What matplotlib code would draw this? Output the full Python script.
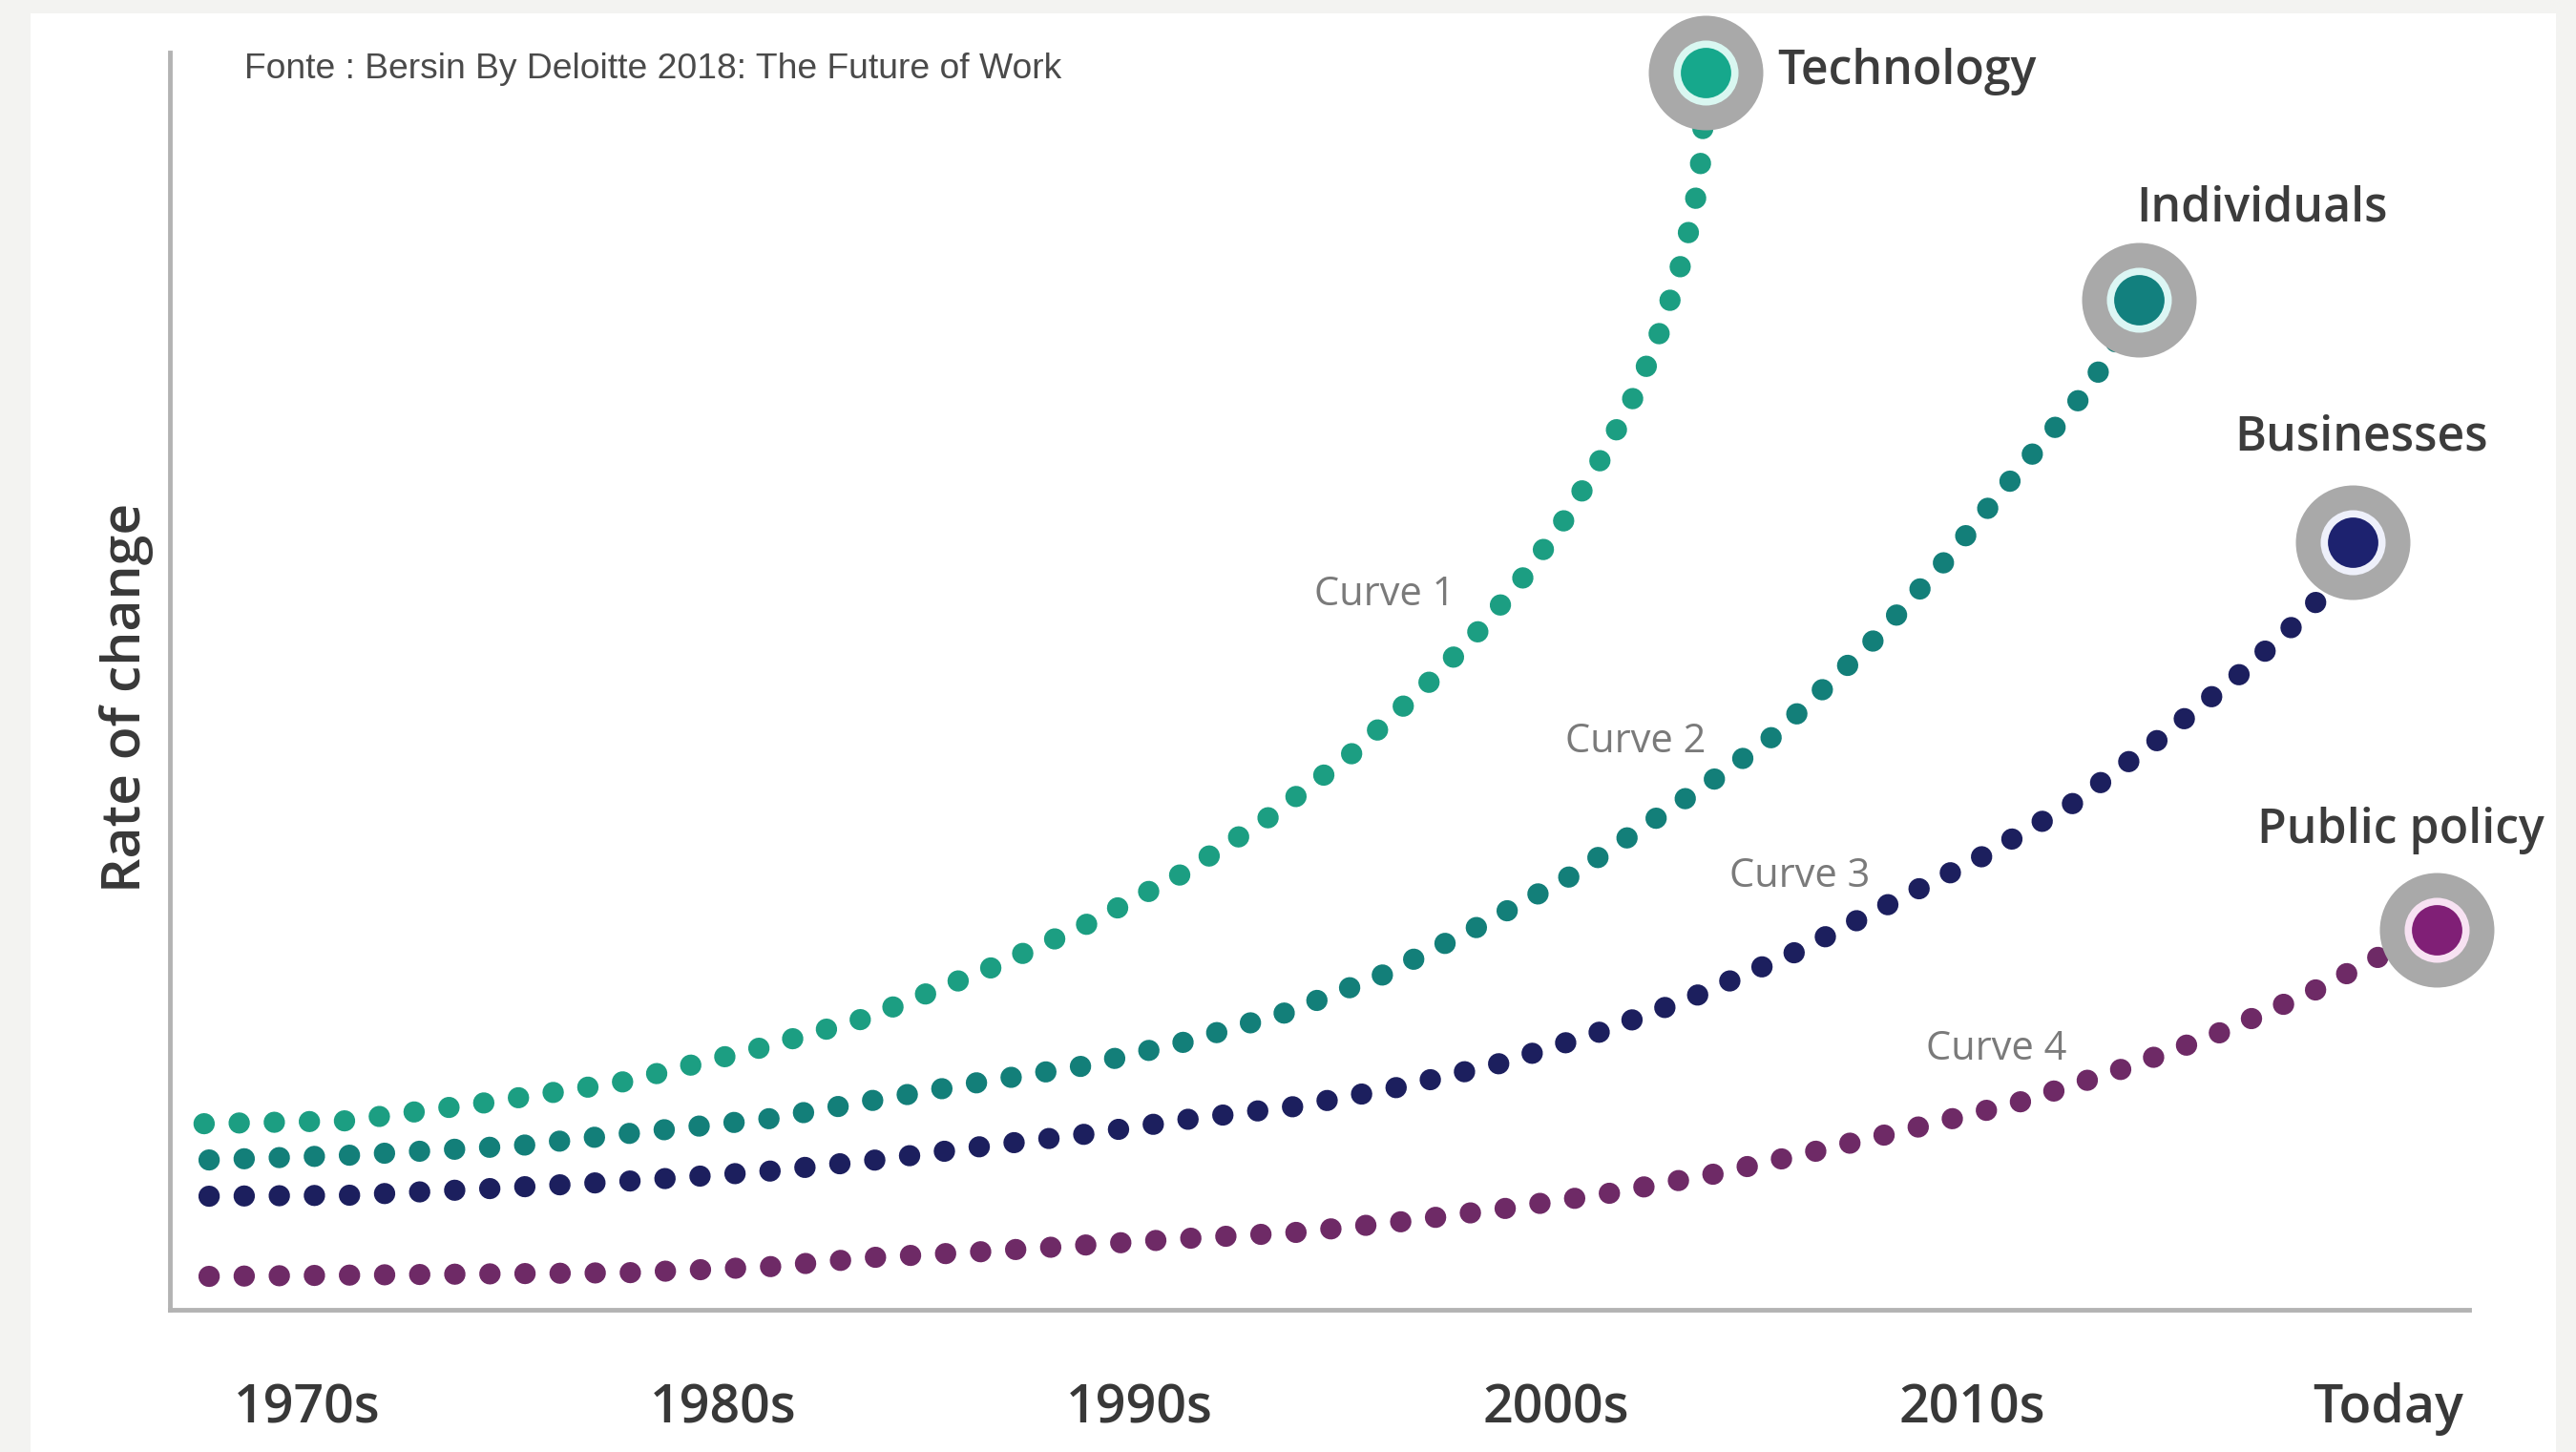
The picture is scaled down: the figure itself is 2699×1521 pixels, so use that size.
import matplotlib.pyplot as plt
from matplotlib.patches import Rectangle

# ====================================
# Dados (x: décadas, 0 = 1970s ... 5 = Today; y: taxa de mudança 0-100)
# ====================================
decadas = ["1970s", "1980s", "1990s", "2000s", "2010s", "Today"]

tech_x = [-0.248, 0.092, 0.429, 0.761, 1.085, 1.337, 1.642, 1.869, 2.099, 2.314, 2.514,
          2.702, 2.821, 2.929, 3.028, 3.115, 3.195, 3.257, 3.307, 3.342, 3.351, 3.360]
tech_y = [14.73, 14.96, 16.41, 18.09, 20.76, 23.13, 27.18, 30.61, 34.66, 39.31, 44.43,
          50.23, 54.35, 58.70, 63.36, 68.24, 73.36, 78.63, 84.12, 89.62, 92.44, 98.78]

indiv_x = [-0.236, 0.101, 0.511, 0.778, 1.106, 1.367, 1.612, 1.858, 2.103, 2.349, 2.585,
           2.812, 3.034, 3.245, 3.388, 3.523, 3.644, 3.768, 3.943, 4.048, 4.154, 4.266,
           4.314, 4.401]
indiv_y = [11.83, 12.21, 12.98, 13.97, 15.11, 16.64, 18.02, 19.31, 21.22, 23.59, 26.64,
           30.46, 34.50, 39.24, 42.44, 45.73, 49.54, 53.51, 60.00, 64.35, 68.63, 72.98,
           75.34, 80.61]

bus_x = [-0.236, 0.101, 0.438, 0.778, 1.106, 1.367, 1.619, 1.869, 2.122, 2.374, 2.619,
         2.865, 3.106, 3.337, 3.573, 3.796, 4.021, 4.241, 4.447, 4.644, 4.768, 4.844, 4.915]
bus_y = [8.93, 9.01, 9.54, 10.15, 10.92, 11.83, 12.90, 13.89, 15.11, 16.11, 17.63,
         19.54, 22.06, 24.96, 28.40, 32.21, 36.03, 40.31, 45.42, 50.69, 54.43, 57.02, 61.22]

pol_x = [-0.236, 0.778, 1.106, 1.367, 1.624, 1.876, 2.122, 2.374, 2.624, 2.876, 3.128,
         3.378, 3.624, 3.867, 4.110, 4.353, 4.589, 4.821, 4.975, 5.117]
pol_y = [2.52, 2.82, 3.28, 4.05, 4.50, 5.04, 5.57, 6.03, 6.87, 7.94, 9.16,
         10.69, 12.52, 14.43, 16.41, 19.01, 21.91, 25.34, 28.02, 30.23]

series = [
    ("Technology", tech_x, tech_y, "#1c9e82", "#16a88c", "#d9f7f1"),
    ("Individuals", indiv_x, indiv_y, "#137f79", "#12807e", "#dcf6f4"),
    ("Businesses", bus_x, bus_y, "#1c1f5e", "#1d226f", "#eef0fa"),
    ("Public policy", pol_x, pol_y, "#6e2a66", "#801f76", "#f7e2f2"),
]

# ====================================
# Figura com moldura cinza e painel branco
# ====================================
W, H = 2699, 1521
fig = plt.figure(figsize=(W / 100, H / 100), dpi=100)
fig.patch.set_facecolor("#f3f3f1")
fig.patches.append(Rectangle((32 / W, 0), (2678 - 32) / W, (H - 14) / H,
                             transform=fig.transFigure, facecolor="white",
                             edgecolor="none", zorder=-10))

ax = fig.add_axes([178 / W, (H - 1372) / H, (2587 - 178) / W, (1372 - 55) / H])
ax.set_zorder(1)
ax.set_facecolor("none")
ax.set_xlim(-0.33, 5.195)
ax.set_ylim(-0.15, 100.4)

for lado in ["top", "right"]:
    ax.spines[lado].set_visible(False)
for lado in ["left", "bottom"]:
    ax.spines[lado].set_color("#b3b3b3")
    ax.spines[lado].set_linewidth(3.5)

fonte = ["Open Sans", "DejaVu Sans"]

ax.set_xticks(range(len(decadas)))
ax.set_xticklabels(decadas, fontsize=40, fontweight=600, color="#383838", family=fonte)
ax.tick_params(axis="x", length=0, pad=55)
ax.set_yticks([])

ax.set_ylabel("Rate of change", fontsize=41, fontweight=600, color="#383838",
              family=fonte, va="center")
ax.yaxis.set_label_coords(-0.019, 0.4867)

# ====================================
# Curvas pontilhadas e marcadores finais
# ====================================
for nome, xs, ys, cor, cor_marca, cor_halo in series:
    ax.plot(xs, ys, color=cor, lw=16, linestyle=(0, (0.01, 1.645)),
            dash_capstyle="round", clip_on=False, zorder=2)
    ax.plot(xs[-1], ys[-1], "o", ms=86.4, color="#a9a9a9", mec="none",
            clip_on=False, zorder=3)
    ax.plot(xs[-1], ys[-1], "o", ms=49, color=cor_halo, mec="none",
            clip_on=False, zorder=4)
    ax.plot(xs[-1], ys[-1], "o", ms=38, color=cor_marca, mec="none",
            clip_on=False, zorder=5)

# Rótulos das categorias (deslocamento em pontos a partir do marcador)
deslocamentos = {
    "Technology": ((54, 1), "left"),
    "Individuals": ((93, 69), "center"),
    "Businesses": ((6.5, 79), "center"),
    "Public policy": ((-27, 75), "center"),
}
for nome, xs, ys, cor, cor_marca, cor_halo in series:
    (dx, dy), ha = deslocamentos[nome]
    ax.annotate(nome, (xs[-1], ys[-1]), xytext=(dx, dy), textcoords="offset points",
                ha=ha, va="center", fontsize=36, fontweight=600, color="#3c3c3c",
                family=fonte, annotation_clip=False)

# Nomes das curvas
rotulos_curvas = ["Curve 1", "Curve 2", "Curve 3", "Curve 4"]
pos_curvas = [(2.589, 57.0), (3.193, 45.3), (3.587, 34.5), (4.060, 20.7)]
for txt, (px, py) in zip(rotulos_curvas, pos_curvas):
    ax.text(px, py, txt, ha="center", va="center", fontsize=30, color="#7a7a7a",
            family=fonte)

fig.text(256 / W, 1 - 73 / H, "Fonte : Bersin By Deloitte 2018: The Future of Work",
         ha="left", va="center", fontsize=26.8, color="#4a4a4a",
         family=["Liberation Sans", "DejaVu Sans"])

fig.savefig("out.png", dpi=100, facecolor=fig.get_facecolor())
